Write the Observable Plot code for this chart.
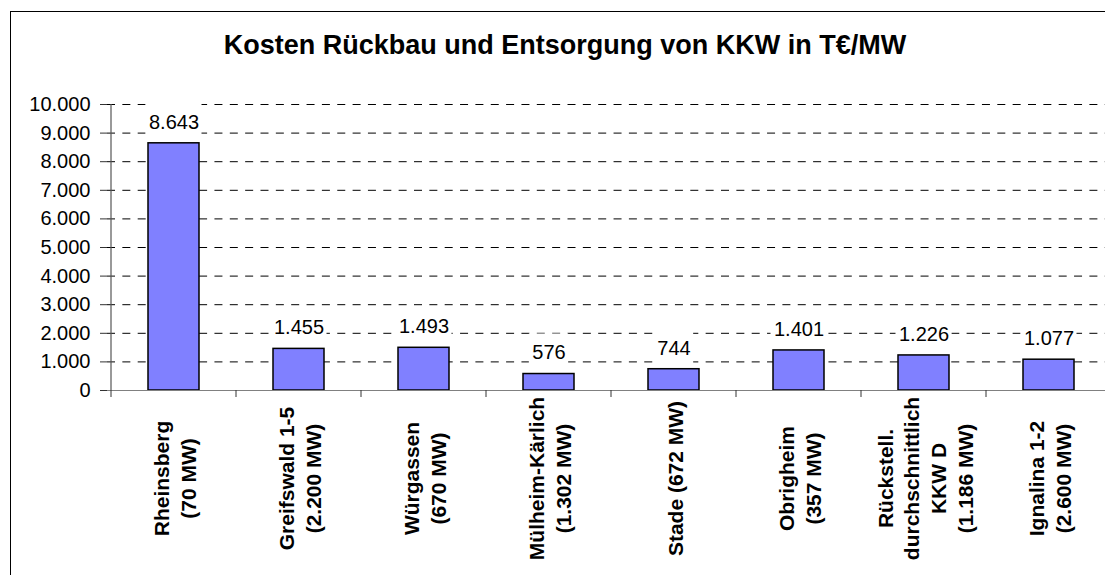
<!DOCTYPE html>
<html>
<head>
<meta charset="utf-8">
<script src="https://cdn.jsdelivr.net/npm/d3@7"></script>
<script src="https://cdn.jsdelivr.net/npm/@observablehq/plot@0.6"></script>
<style>
  html, body { margin: 0; padding: 0; background: #fff; overflow: hidden; }
  #wrap { position: relative; width: 1105px; height: 575px; overflow: hidden; font-family: "Liberation Sans", Arial, sans-serif; background: #fff; }
  #title { height: 80px; box-sizing: border-box; margin: 0; padding-top: 32px; padding-left: 25px; text-align: center; font-size: 27px; line-height: 27px; font-weight: bold; color: #000; }
  #border { position: absolute; left: 10px; top: 11px; width: 1300px; height: 800px; border-left: 1px solid #000; border-top: 1px solid #000; pointer-events: none; }
</style>
</head>
<body>
<div id="wrap">
  <div id="title">Kosten Rückbau und Entsorgung von KKW in T€/MW</div>
  <div id="chart"></div>
  <div id="border"></div>
</div>
<script>
// ---- data ----
const categories = [
  "Rheinsberg\n(70 MW)",
  "Greifswald 1-5\n(2.200 MW)",
  "Würgassen\n(670 MW)",
  "Mülheim-Kärlich\n(1.302 MW)",
  "Stade (672 MW)",
  "Obrigheim\n(357 MW)",
  "Rückstell.\ndurchschnittlich\nKKW D\n(1.186 MW)",
  "Ignalina 1-2\n(2.600 MW)"
];
const values = [8643, 1455, 1493, 576, 744, 1401, 1226, 1077];
const yTicks = [0, 1000, 2000, 3000, 4000, 5000, 6000, 7000, 8000, 9000, 10000];

// ---- layout ----
const W = 1105, H = 495;
const mLeft = 107, mTop = 24, mBottom = 185;
const xRange = [mLeft, 1115];
const pInner = 0.595, pOuter = 0.2976;
const step = (xRange[1] - xRange[0]) / categories.length;
const halfStep = step / 2;
const bw = step * (1 - pInner);

const fmt = d => d3.format(",")(d).replace(/,/g, ".");

// text widths for white label boxes
const ctx = document.createElement("canvas").getContext("2d");
ctx.font = '20px "Liberation Sans", Arial, sans-serif';
const boxMarks = values.map((v, i) => {
  const w = ctx.measureText(fmt(v)).width + 6;
  const ins = (bw - w) / 2;
  return Plot.barY([i], {
    x: j => categories[j], y1: j => values[j], y2: j => values[j],
    fill: "white", insetTop: -40, insetBottom: 2, insetLeft: ins, insetRight: ins
  });
});

const chart = Plot.plot({
  width: W,
  height: H,
  marginLeft: mLeft,
  marginRight: 0,
  marginTop: mTop,
  marginBottom: mBottom,
  style: { fontFamily: '"Liberation Sans", Arial, sans-serif', background: "white", overflow: "hidden", color: "black" },
  x: { domain: categories, range: xRange, paddingInner: pInner, paddingOuter: pOuter, axis: null },
  y: { domain: [0, 10000] },
  marks: [
    Plot.ruleY(yTicks.slice(1), { stroke: "#000", strokeWidth: 1, strokeDasharray: "8,7.35" }),
    ...boxMarks,
    Plot.barY(values, { x: (d, i) => categories[i], y: d => d, fill: "#8080FF", stroke: "#000", strokeWidth: 1.5 }),
    Plot.ruleY([0], { stroke: "#808080", strokeWidth: 1.2 }),
    Plot.ruleX([categories[0]], { x: d => d, y1: 0, y2: 10000, dx: -halfStep, stroke: "#555", strokeWidth: 1.2 }),
    Plot.ruleX(categories, { x: d => d, y1: 0, y2: 0, insetBottom: -7, dx: -halfStep, stroke: "#333", strokeWidth: 1 }),
    Plot.axisY(yTicks, { tickSize: 7, tickPadding: 10, tickFormat: fmt, fontSize: 20, stroke: "#333", fill: "#000", label: null }),
    Plot.text(values, { x: (d, i) => categories[i], y: d => d, text: d => fmt(d), dy: -21, lineAnchor: "middle", fontSize: 20, fill: "#000" }),
    Plot.text(categories, { x: d => d, text: d => d, frameAnchor: "bottom", dy: 88, rotate: -90, textAnchor: "middle", lineAnchor: "middle", lineHeight: 1.27, fontSize: 21, fontWeight: "bold", fill: "#000" })
  ]
});
document.getElementById("chart").appendChild(chart);
</script>
</body>
</html>
